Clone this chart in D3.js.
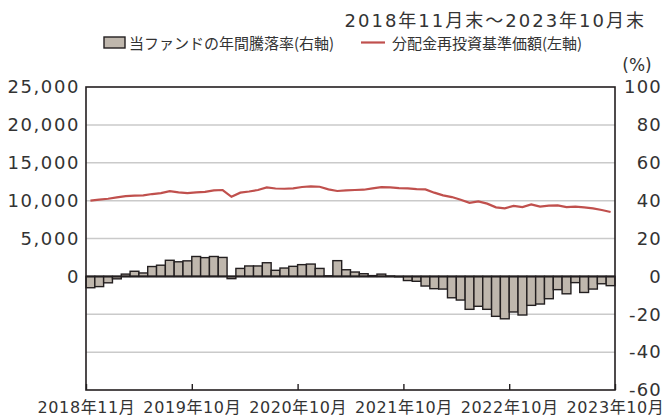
<!DOCTYPE html>
<html lang="ja">

<head>
    <meta charset="UTF-8">
    <title>年間騰落率と基準価額</title>
</head>
<style>
    html,
    body {
        margin: 0;
        padding: 0;
        background: #fff;
    }

    text {
        fill: #333;
    }
</style>

<body>
    <script src="https://cdn.jsdelivr.net/npm/d3@7/dist/d3.min.js"></script>
    <script>
        // 月次カテゴリ (2018年11月～2023年10月)
        var months = d3.timeMonth.range(new Date(2018, 10, 1), new Date(2023, 10, 1));

        // 当ファンドの年間騰落率 (%) 右軸
        var yearlyReturn = [
            -6.0, -5.4, -3.4, -1.3, 1.2, 2.7, 1.8, 5.2, 5.9, 8.5,
            7.7, 8.2, 10.5, 9.9, 10.5, 10.0, -1.2, 4.2, 5.5, 5.5,
            7.2, 3.2, 4.4, 5.3, 6.2, 6.5, 4.2, 0.3, 8.3, 3.5,
            2.3, 1.4, 0.4, 1.2, 0.2, -0.2, -2.2, -2.6, -5.1, -6.5,
            -6.7, -11.3, -12.5, -17.4, -15.8, -17.4, -21.1, -22.4, -18.8, -20.4,
            -15.3, -14.6, -11.8, -7.0, -9.2, -3.3, -8.5, -6.7, -3.9, -4.9
        ];

        // 分配金再投資基準価額 (円) 左軸
        var navReinvested = [
            10000, 10120, 10250, 10430, 10600, 10650, 10700, 10870, 11000, 11250,
            11100, 11000, 11100, 11150, 11350, 11400, 10500, 11050, 11200, 11400,
            11750, 11600, 11570, 11620, 11800, 11880, 11830, 11480, 11270, 11350,
            11400, 11440, 11620, 11790, 11750, 11660, 11620, 11530, 11480, 11050,
            10700, 10470, 10120, 9700, 9900, 9600, 9110, 8980, 9300, 9150,
            9500, 9200, 9330, 9380, 9150, 9200, 9110, 8980, 8760, 8500
        ];

        // 軸の目盛り
        var leftTicks = [0, 5000, 10000, 15000, 20000, 25000];
        var rightTicks = [100, 80, 60, 40, 20, 0, -20, -40, -60];
        var xTickIndex = [0, 12, 24, 36, 48, 60];
        var xTickLabels = ['2018年11月', '2019年10月', '2020年10月', '2021年10月', '2022年10月', '2023年10月'];

        var W = 665, H = 416;
        var plot = { left: 86, right: 615, top: 87, bottom: 390 };
        var barFill = '#bfb7ad';
        var dark = '#231f20';
        var red = '#c0504d';
        var numFont = '"DejaVu Sans", "Noto Sans CJK JP", sans-serif';
        var jpFont = '"Noto Sans CJK JP", sans-serif';

        var svg = d3.select('body').append('svg').attr('width', W).attr('height', H);

        // スケール
        var x = d3.scaleBand().domain(months).range([plot.left, plot.right]).padding(0);
        var xIdx = d3.scaleLinear().domain([0, 60]).range([plot.left, plot.right]);
        var yR = d3.scaleLinear().domain([-60, 100]).range([plot.bottom, plot.top]);
        var yL = d3.scaleLinear().domain([-15000, 25000]).range([plot.bottom, plot.top]);

        // グリッド線
        svg.append('g').selectAll('line')
            .data(rightTicks.filter(function (d) { return d != 100 && d != 0 && d != -60; }))
            .enter().append('line')
            .attr('x1', plot.left).attr('x2', plot.right)
            .attr('y1', function (d) { return yR(d); }).attr('y2', function (d) { return yR(d); })
            .attr('stroke', '#cacaca').attr('stroke-width', 1.5);

        // 棒グラフ
        svg.append('g').selectAll('rect')
            .data(yearlyReturn)
            .enter().append('rect')
            .attr('x', function (d, i) { return x(months[i]); })
            .attr('width', x.bandwidth())
            .attr('y', function (d) { return yR(Math.max(0, d)); })
            .attr('height', function (d) { return Math.abs(yR(d) - yR(0)); })
            .attr('fill', barFill).attr('stroke', dark).attr('stroke-width', 1.4);

        // ゼロ線
        svg.append('line')
            .attr('x1', plot.left).attr('x2', plot.right)
            .attr('y1', yR(0)).attr('y2', yR(0))
            .attr('stroke', dark).attr('stroke-width', 2);

        // 基準価額の折れ線
        var line = d3.line()
            .x(function (d, i) { return x(months[i]) + x.bandwidth() / 2; })
            .y(function (d) { return yL(d); });
        svg.append('path').datum(navReinvested)
            .attr('d', line)
            .attr('fill', 'none').attr('stroke', red).attr('stroke-width', 2.2);

        // 枠
        svg.append('rect')
            .attr('x', plot.left).attr('y', plot.top)
            .attr('width', plot.right - plot.left).attr('height', plot.bottom - plot.top)
            .attr('fill', 'none').attr('stroke', dark).attr('stroke-width', 1.6);

        // 左軸
        var gL = svg.append('g').attr('transform', 'translate(' + (plot.left - 6) + ',0)')
            .call(d3.axisLeft(yL).tickValues(leftTicks).tickSize(0).tickPadding(0).tickFormat(d3.format(',')));
        gL.select('.domain').remove();
        gL.selectAll('text').style('font-family', numFont).style('font-size', '18px')
            .style('letter-spacing', '1.6px').attr('fill', '#333');

        // 右軸 (マイナスはハイフン表記)
        var gR = svg.append('g').attr('transform', 'translate(' + plot.right + ',0)')
            .call(d3.axisRight(yR).tickValues(rightTicks).tickSize(0).tickPadding(0)
                .tickFormat(function (d) { return String(d); }));
        gR.select('.domain').remove();
        gR.selectAll('text').attr('x', 47).attr('text-anchor', 'end')
            .style('font-family', numFont).style('font-size', '18px')
            .style('letter-spacing', '1.2px').attr('fill', '#333');

        svg.append('text').attr('x', 637).attr('y', 71).attr('text-anchor', 'middle')
            .style('font-family', numFont).style('font-size', '17px').text('(%)');

        // 横軸
        var gX = svg.append('g').attr('transform', 'translate(0,' + plot.bottom + ')')
            .call(d3.axisBottom(xIdx).tickValues(xTickIndex).tickSizeInner(-6).tickSizeOuter(0).tickPadding(12)
                .tickFormat(function (d, i) { return xTickLabels[i]; }));
        gX.select('.domain').remove();
        gX.selectAll('line').attr('stroke', dark).attr('stroke-width', 1.4);
        gX.selectAll('text').style('font-family', numFont).style('font-size', '16px')
            .style('letter-spacing', '0.6px').attr('fill', '#333');

        // タイトル
        svg.append('text').attr('x', 646).attr('y', 27).attr('text-anchor', 'end')
            .style('font-family', numFont).style('font-size', '18px').style('letter-spacing', '2px')
            .text('2018年11月末～2023年10月末');

        // 凡例
        var lg = svg.append('g');
        lg.append('rect').attr('x', 104).attr('y', 37).attr('width', 21).attr('height', 11)
            .attr('fill', barFill).attr('stroke', dark).attr('stroke-width', 1.4);
        lg.append('text').attr('x', 129).attr('y', 49)
            .style('font-family', jpFont).style('font-size', '15px')
            .text('当ファンドの年間騰落率(右軸)');
        lg.append('line').attr('x1', 361).attr('x2', 385).attr('y1', 42.5).attr('y2', 42.5)
            .attr('stroke', red).attr('stroke-width', 2.2);
        lg.append('text').attr('x', 392).attr('y', 49)
            .style('font-family', jpFont).style('font-size', '15px')
            .text('分配金再投資基準価額(左軸)');
    </script>
</body>

</html>
